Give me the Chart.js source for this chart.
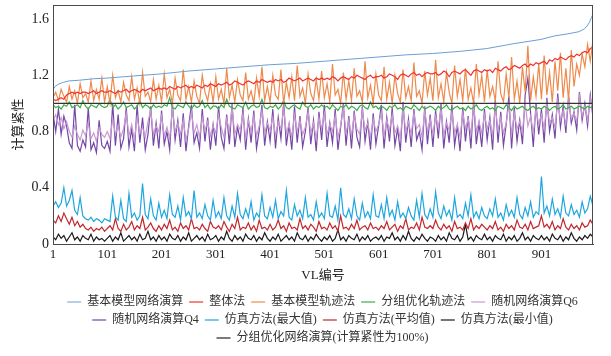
<!DOCTYPE html>
<html><head><meta charset="utf-8">
<script src="https://cdn.jsdelivr.net/npm/chart.js@4"></script>
<style>html,body{margin:0;padding:0;background:#fff}#wrap{width:611px;height:356px}</style>
</head><body><div id="wrap"><canvas id="c" width="611" height="356"></canvas></div>
<script>
// ---- data ----
const seriesNames = ['基本模型网络演算','整体法','基本模型轨迹法','分组优化轨迹法','随机网络演算Q6','随机网络演算Q4','仿真方法(最大值)','仿真方法(平均值)','仿真方法(最小值)','分组优化网络演算(计算紧性为100%)'];
const vlTicks = [1,101,201,301,401,501,601,701,801,901];
const yTicks = [0,0.4,0.8,1.2,1.6];
const vlStart = 1, vlStep = 5; // sampled VL numbers: 1,6,11,...,996

const baseVL  = [1,5,10,20,30,50,75,100,150,200,250,300,350,400,450,500,550,600,650,700,750,800,850,900,925,950,970,980,985,990,993,996];
const baseVal = [1.10,1.12,1.135,1.15,1.16,1.165,1.175,1.18,1.195,1.21,1.23,1.245,1.26,1.275,1.285,1.30,1.315,1.33,1.345,1.355,1.37,1.39,1.425,1.455,1.48,1.495,1.51,1.53,1.55,1.58,1.61,1.635];

const wholeVal = [
1.03,1.02,1.03,1.04,1.03,1.06,1.07,1.08,1.07,1.08,1.07,1.08,1.08,1.07,1.08,1.09,1.07,1.08,1.09,1.08,
1.08,1.09,1.08,1.07,1.09,1.08,1.09,1.10,1.08,1.09,1.10,1.09,1.08,1.10,1.09,1.10,1.11,1.09,1.10,1.11,
1.10,1.11,1.10,1.12,1.11,1.10,1.12,1.11,1.12,1.13,1.11,1.12,1.11,1.13,1.12,1.11,1.13,1.12,1.14,1.13,
1.12,1.14,1.13,1.14,1.15,1.13,1.14,1.16,1.15,1.14,1.13,1.15,1.16,1.15,1.14,1.16,1.15,1.17,1.16,1.15,
1.16,1.15,1.17,1.16,1.17,1.15,1.16,1.18,1.17,1.16,1.17,1.18,1.16,1.17,1.18,1.17,1.16,1.18,1.17,1.18,
1.17,1.18,1.17,1.19,1.18,1.16,1.18,1.19,1.18,1.17,1.19,1.18,1.20,1.19,1.18,1.17,1.19,1.20,1.18,1.19,
1.19,1.20,1.18,1.19,1.21,1.20,1.19,1.17,1.20,1.21,1.20,1.19,1.21,1.22,1.20,1.21,1.19,1.21,1.22,1.21,
1.21,1.22,1.20,1.21,1.23,1.22,1.19,1.22,1.23,1.22,1.21,1.23,1.24,1.22,1.20,1.23,1.24,1.23,1.22,1.24,
1.23,1.24,1.22,1.25,1.24,1.23,1.25,1.26,1.24,1.25,1.27,1.26,1.25,1.27,1.28,1.26,1.28,1.27,1.29,1.28,
1.29,1.30,1.28,1.31,1.30,1.32,1.31,1.33,1.32,1.31,1.33,1.34,1.33,1.35,1.34,1.36,1.37,1.36,1.39,1.40];

const trajVal = [
1.04,1.08,1.02,1.10,1.05,1.01,1.12,1.03,1.09,1.00,1.14,1.04,1.07,1.01,1.16,1.02,1.10,1.03,1.18,1.01,
1.12,1.00,1.20,1.04,1.09,1.01,1.15,1.06,1.02,1.19,1.03,1.11,1.00,1.22,1.05,1.08,1.01,1.17,1.03,1.13,
1.01,1.21,1.04,1.10,1.00,1.18,1.06,1.02,1.24,1.03,1.12,1.01,1.16,1.05,1.00,1.20,1.08,1.02,1.14,1.01,
1.19,1.03,1.10,1.00,1.25,1.04,1.13,1.01,1.17,1.06,1.02,1.22,1.03,1.09,1.00,1.18,1.05,1.26,1.02,1.12,
1.01,1.20,1.06,1.03,1.24,1.00,1.15,1.04,1.19,1.02,1.27,1.05,1.11,1.00,1.21,1.07,1.02,1.17,1.03,1.23,
1.04,1.14,1.01,1.28,1.06,1.10,1.00,1.22,1.03,1.16,1.02,1.25,1.05,1.09,1.01,1.30,1.04,1.13,1.00,1.21,
1.06,1.02,1.26,1.03,1.15,1.00,1.20,1.07,1.01,1.24,1.04,1.12,1.02,1.29,1.05,1.09,1.00,1.23,1.06,1.18,
1.02,1.31,1.04,1.14,1.01,1.22,1.08,1.00,1.27,1.05,1.17,1.02,1.25,1.03,1.11,1.00,1.28,1.06,1.20,1.01,
1.24,1.05,1.12,1.02,1.30,1.07,1.01,1.21,1.04,1.33,1.03,1.16,1.00,1.26,1.08,1.41,1.02,1.19,1.05,1.28,
1.03,1.34,1.06,1.22,1.01,1.30,1.09,1.36,1.04,1.25,1.02,1.38,1.12,1.28,1.20,1.35,1.26,1.42,1.30,1.45];

const groupTrajVal = [
0.99,0.97,0.98,0.96,0.99,0.98,1.01,0.97,0.98,0.99,0.97,1.02,0.98,0.96,0.99,0.98,0.97,1.00,0.98,0.97,
0.98,1.03,0.97,0.99,0.96,0.98,1.01,0.97,0.98,0.99,0.96,0.98,1.02,0.97,0.99,0.98,0.96,0.99,0.97,0.98,
0.97,0.99,0.98,1.04,0.97,0.96,0.99,0.98,0.97,1.01,0.98,0.96,0.99,0.97,0.98,1.02,0.97,0.99,0.96,0.98,
0.98,0.96,0.99,0.97,1.03,0.98,0.97,0.96,0.99,0.98,0.97,1.01,0.96,0.98,0.99,0.97,0.98,1.03,0.97,0.96,
0.98,0.97,0.99,0.96,0.98,1.02,0.97,0.96,0.98,0.99,0.97,0.96,1.01,0.98,0.97,0.99,0.96,0.98,0.97,0.99,
0.97,0.98,0.96,0.99,0.97,0.95,0.98,0.97,0.99,0.96,0.98,0.97,0.95,0.98,0.99,0.97,0.96,1.01,0.97,0.98,
0.96,0.98,0.97,0.95,0.98,0.97,0.99,0.96,0.97,0.95,0.98,0.97,0.96,0.99,0.97,0.95,0.98,0.96,0.97,0.98,
0.97,0.95,0.98,0.96,0.97,0.99,0.96,0.95,0.97,0.98,0.96,0.97,0.95,0.98,0.96,0.97,0.99,0.96,0.95,0.97,
0.98,0.96,0.97,0.95,0.98,0.97,0.96,0.99,0.97,0.95,0.98,0.96,0.97,0.98,0.96,0.95,0.97,0.98,0.96,0.97,
0.96,0.98,0.97,0.95,0.97,0.98,0.96,0.97,0.99,0.96,0.97,0.98,0.96,0.97,0.98,0.97,0.96,0.98,0.97,0.98];

const q6Val = [
0.88,0.92,0.85,0.90,0.82,0.87,0.80,0.76,0.84,0.78,0.74,0.81,0.77,0.86,0.75,0.79,0.73,0.83,0.78,0.76,
0.80,0.75,0.89,0.78,0.84,0.76,0.82,0.93,0.77,0.85,0.74,0.90,0.79,0.83,0.76,0.87,0.95,0.78,0.84,0.80,
0.91,0.77,0.83,0.75,0.96,0.80,0.86,0.78,0.88,0.74,0.82,0.94,0.79,0.85,0.76,0.90,0.81,0.87,0.77,0.84,
0.79,0.92,0.83,0.76,0.89,0.80,0.97,0.78,0.85,0.81,0.93,0.75,0.88,0.80,0.91,0.77,0.84,0.95,0.79,0.86,
0.81,0.90,0.77,0.87,0.82,0.96,0.79,0.85,0.76,0.92,0.80,0.88,0.78,0.83,0.94,0.79,0.86,0.75,0.90,0.82,
0.93,0.78,0.85,0.80,0.91,0.76,0.84,0.97,0.79,0.88,0.77,0.92,0.82,0.78,0.95,0.81,0.86,0.76,0.89,0.80,
0.85,0.94,0.77,0.88,0.81,0.92,0.79,0.84,0.75,0.97,0.80,0.87,0.78,0.93,0.82,0.85,0.76,0.95,0.80,0.89,
0.78,0.91,0.83,0.96,0.77,0.86,0.81,0.94,0.79,0.85,0.76,0.93,0.82,0.89,0.78,0.98,0.80,0.87,0.79,0.92,
0.82,0.88,0.77,0.97,0.81,0.90,0.79,0.86,0.99,0.78,0.93,0.82,0.87,0.80,1.00,0.84,0.91,0.79,0.96,0.85,
0.92,0.82,1.00,0.86,0.90,0.83,1.02,0.88,0.95,0.85,1.03,0.89,0.93,0.87,1.05,0.91,0.98,0.88,1.04,0.94];

const q4Val = [
0.93,0.80,0.96,0.78,0.91,0.84,0.72,0.68,0.99,0.70,0.66,0.74,0.69,0.97,0.67,0.72,0.65,0.88,0.70,0.68,
0.73,0.66,1.00,0.70,0.92,0.68,0.75,0.97,0.69,0.82,0.66,0.99,0.72,0.90,0.67,0.78,0.98,0.70,0.86,0.68,
0.95,0.71,0.80,0.67,1.00,0.74,0.88,0.69,0.93,0.66,0.84,0.99,0.72,0.79,0.68,0.96,0.73,0.90,0.67,0.85,
0.70,0.98,0.76,0.68,0.92,0.71,1.00,0.69,0.83,0.74,0.97,0.67,0.89,0.72,0.95,0.68,0.81,0.99,0.70,0.87,
0.73,0.96,0.68,0.90,0.75,1.01,0.70,0.85,0.67,0.98,0.72,0.91,0.69,0.80,0.97,0.71,0.88,0.66,0.94,0.74,
0.99,0.69,0.86,0.72,0.96,0.67,0.83,1.00,0.70,0.91,0.68,0.95,0.76,0.69,0.98,0.73,0.87,0.67,0.93,0.71,
0.84,0.99,0.68,0.90,0.73,0.97,0.70,0.82,0.66,1.01,0.72,0.89,0.69,0.96,0.74,0.80,0.67,0.98,0.71,0.92,
0.69,0.95,0.75,1.00,0.68,0.87,0.72,0.99,0.70,0.84,0.66,0.97,0.73,0.91,0.68,1.02,0.71,0.86,0.69,0.96,
0.74,0.90,0.67,1.03,0.72,0.94,0.70,0.85,1.05,0.68,0.97,0.73,0.88,0.71,1.06,1.18,0.93,0.69,1.00,0.78,
0.96,0.72,1.04,0.80,0.92,0.75,1.07,0.83,0.98,0.79,1.05,0.86,0.94,0.81,1.08,0.88,1.00,0.84,1.06,0.90];

const simMax = [
0.27,0.30,0.26,0.29,0.40,0.27,0.31,0.38,0.24,0.21,0.33,0.20,0.18,0.17,0.19,0.16,0.18,0.17,0.15,0.18,
0.17,0.16,0.34,0.19,0.17,0.31,0.18,0.16,0.36,0.19,0.22,0.17,0.20,0.43,0.21,0.18,0.32,0.20,0.17,0.29,
0.19,0.24,0.18,0.35,0.21,0.19,0.27,0.17,0.33,0.20,0.23,0.18,0.38,0.19,0.22,0.18,0.28,0.20,0.17,0.31,
0.19,0.23,0.18,0.33,0.20,0.17,0.27,0.19,0.36,0.21,0.18,0.25,0.19,0.30,0.17,0.22,0.19,0.35,0.20,0.18,
0.26,0.19,0.31,0.18,0.23,0.20,0.38,0.19,0.17,0.28,0.20,0.24,0.18,0.33,0.19,0.21,0.17,0.30,0.19,0.22,
0.18,0.36,0.20,0.19,0.27,0.17,0.40,0.21,0.19,0.25,0.18,0.32,0.20,0.17,0.29,0.19,0.23,0.18,0.35,0.20,
0.19,0.28,0.18,0.33,0.20,0.24,0.17,0.30,0.19,0.22,0.18,0.26,0.20,0.17,0.31,0.19,0.36,0.21,0.18,0.25,
0.19,0.37,0.22,0.18,0.27,0.20,0.24,0.17,0.33,0.19,0.21,0.18,0.29,0.20,0.35,0.19,0.23,0.18,0.26,0.20,
0.18,0.25,0.20,0.32,0.19,0.22,0.17,0.28,0.20,0.24,0.19,0.33,0.21,0.18,0.26,0.20,0.30,0.19,0.23,0.21,
0.48,0.22,0.27,0.20,0.32,0.21,0.25,0.19,0.34,0.22,0.20,0.28,0.21,0.24,0.19,0.30,0.22,0.25,0.34,0.27];

const simAvg = [
0.17,0.15,0.20,0.16,0.22,0.18,0.14,0.19,0.13,0.16,0.12,0.14,0.11,0.10,0.12,0.09,0.11,0.10,0.12,0.09,
0.11,0.13,0.10,0.18,0.11,0.09,0.14,0.10,0.12,0.16,0.10,0.13,0.11,0.19,0.10,0.12,0.15,0.11,0.09,0.13,
0.10,0.14,0.11,0.17,0.10,0.12,0.09,0.15,0.11,0.13,0.10,0.18,0.11,0.12,0.10,0.14,0.11,0.09,0.16,0.12,
0.11,0.13,0.10,0.16,0.12,0.09,0.14,0.11,0.19,0.10,0.12,0.11,0.15,0.10,0.13,0.09,0.17,0.11,0.12,0.10,
0.14,0.10,0.12,0.17,0.11,0.13,0.09,0.15,0.11,0.12,0.10,0.18,0.11,0.13,0.10,0.14,0.12,0.09,0.16,0.11,
0.12,0.10,0.15,0.11,0.13,0.09,0.20,0.11,0.12,0.10,0.14,0.11,0.17,0.10,0.12,0.13,0.10,0.15,0.11,0.12,
0.10,0.13,0.11,0.16,0.10,0.12,0.14,0.09,0.13,0.11,0.18,0.10,0.12,0.11,0.15,0.10,0.19,0.12,0.11,0.13,
0.11,0.17,0.12,0.10,0.14,0.11,0.13,0.09,0.16,0.11,0.12,0.10,0.15,0.11,0.18,0.10,0.13,0.11,0.14,0.12,
0.10,0.13,0.11,0.16,0.10,0.12,0.09,0.14,0.11,0.13,0.10,0.17,0.12,0.11,0.14,0.10,0.16,0.11,0.12,0.13,
0.20,0.12,0.14,0.11,0.16,0.10,0.13,0.11,0.18,0.12,0.10,0.14,0.11,0.13,0.10,0.15,0.12,0.13,0.17,0.14];

const simMin = [
0.05,0.03,0.07,0.04,0.06,0.02,0.05,0.08,0.03,0.05,0.02,0.06,0.04,0.03,0.07,0.02,0.05,0.03,0.04,0.02,
0.04,0.06,0.02,0.05,0.03,0.08,0.02,0.04,0.06,0.03,0.05,0.02,0.07,0.03,0.04,0.09,0.03,0.05,0.02,0.06,
0.03,0.05,0.02,0.07,0.04,0.03,0.06,0.02,0.05,0.03,0.08,0.02,0.04,0.06,0.03,0.05,0.02,0.07,0.03,0.04,
0.06,0.02,0.05,0.03,0.09,0.04,0.02,0.06,0.03,0.05,0.02,0.07,0.04,0.03,0.06,0.02,0.05,0.03,0.08,0.04,
0.02,0.05,0.03,0.07,0.02,0.04,0.06,0.03,0.05,0.02,0.08,0.04,0.03,0.06,0.02,0.05,0.03,0.07,0.04,0.02,
0.05,0.03,0.06,0.02,0.04,0.10,0.03,0.05,0.02,0.06,0.04,0.03,0.07,0.02,0.05,0.03,0.06,0.02,0.04,0.05,
0.03,0.06,0.02,0.05,0.04,0.08,0.03,0.05,0.02,0.06,0.03,0.09,0.04,0.02,0.05,0.03,0.07,0.04,0.02,0.05,
0.04,0.02,0.06,0.03,0.05,0.02,0.08,0.04,0.03,0.06,0.02,0.05,0.14,0.03,0.05,0.02,0.06,0.04,0.03,0.07,
0.03,0.05,0.02,0.06,0.04,0.03,0.07,0.02,0.05,0.03,0.06,0.02,0.04,0.08,0.03,0.05,0.02,0.06,0.04,0.03,
0.06,0.03,0.05,0.02,0.07,0.04,0.03,0.06,0.02,0.05,0.03,0.08,0.04,0.02,0.05,0.03,0.06,0.04,0.07,0.05];

const groupNetVL = [1,996];
const groupNetVal = [1.0,1.0];

// ---- chart ----
const seq = arr => arr.map((y,i)=>({x: vlStart + i*vlStep, y}));
const pair = (xs, ys) => xs.map((x,i)=>({x, y: ys[i]}));
const colors = ['#6a9fd4','#f0332d','#ee8a4c','#3fae49','#c99ad2','#7447a8','#1fa6de','#c1272d','#1b1b1b','#333333'];
const widths = [1,1.2,1.2,1.2,1.2,1.2,1.2,1.2,1.2,1.3];
const dataArrs = [pair(baseVL,baseVal), seq(wholeVal), seq(trajVal), seq(groupTrajVal), seq(q6Val), seq(q4Val), seq(simMax), seq(simAvg), seq(simMin), pair(groupNetVL,groupNetVal)];

const serif = '"Liberation Serif", "Noto Sans CJK SC", serif';
const frame = {
  id: 'frame',
  afterLayout(chart){
    // centre the legend rows under the plot area
    if (chart.legend) { chart.legend.left = chart.chartArea.left - 1; }
  },
  afterDraw(chart){
    const {ctx, chartArea:a} = chart;
    ctx.save(); ctx.strokeStyle = '#4a4a4a'; ctx.lineWidth = 1;
    ctx.strokeRect(Math.round(a.left)+0.5, Math.round(a.top)+0.5, Math.round(a.right-a.left)-1, Math.round(a.bottom-a.top));
    ctx.restore();
  }
};

new Chart(document.getElementById('c'), {
  type: 'line',
  data: {
    datasets: seriesNames.map((name,i)=>({
      label: name,
      data: dataArrs[i],
      borderColor: colors[i],
      backgroundColor: colors[i],
      borderWidth: widths[i],
      pointRadius: 0,
      tension: 0,
      fill: false,
      order: i === 9 ? -1 : 0
    }))
  },
  options: {
    responsive: false,
    animation: false,
    devicePixelRatio: 1,
    layout: { padding: { left: 10, right: 18, top: 5, bottom: 2 } },
    plugins: {
      tooltip: { enabled: false },
      legend: {
        position: 'bottom',
        labels: {
          usePointStyle: true,
          pointStyle: 'line',
          pointStyleWidth: 14,
          padding: 6,
          color: '#333',
          font: { family: serif, size: 12 },
          sort: (a,b) => a.datasetIndex - b.datasetIndex
        }
      }
    },
    scales: {
      x: {
        type: 'linear', min: 1, max: 996,
        afterBuildTicks: s => { s.ticks = vlTicks.map(v=>({value:v})); },
        afterFit: s => { s.height = 46; s.paddingLeft = 0; s.paddingRight = 0; },
        ticks: { autoSkip: false, maxRotation: 0, padding: 3, color: '#222', font: { family: serif, size: 13 } },
        grid: { display: false, drawTicks: false },
        border: { display: true, color: '#4a4a4a' },
        title: { display: true, text: 'VL编号', color: '#222', font: { family: serif, size: 13 }, padding: { top: 0, bottom: 7 } }
      },
      y: {
        min: 0, max: 1.7,
        afterBuildTicks: s => { s.ticks = yTicks.map(v=>({value:v})); },
        afterFit: s => { s.width = 43; s.paddingTop = 0; s.paddingBottom = 0; },
        ticks: { padding: 4, color: '#222', font: { family: serif, size: 14 }, callback: v => String(v) },
        grid: { display: false, drawTicks: false },
        border: { display: true, color: '#4a4a4a' },
        title: { display: true, text: '计算紧性', color: '#222', font: { family: serif, size: 13 }, padding: { top: 1, bottom: 0 } }
      }
    }
  },
  plugins: [frame]
});
</script>
</body></html>
